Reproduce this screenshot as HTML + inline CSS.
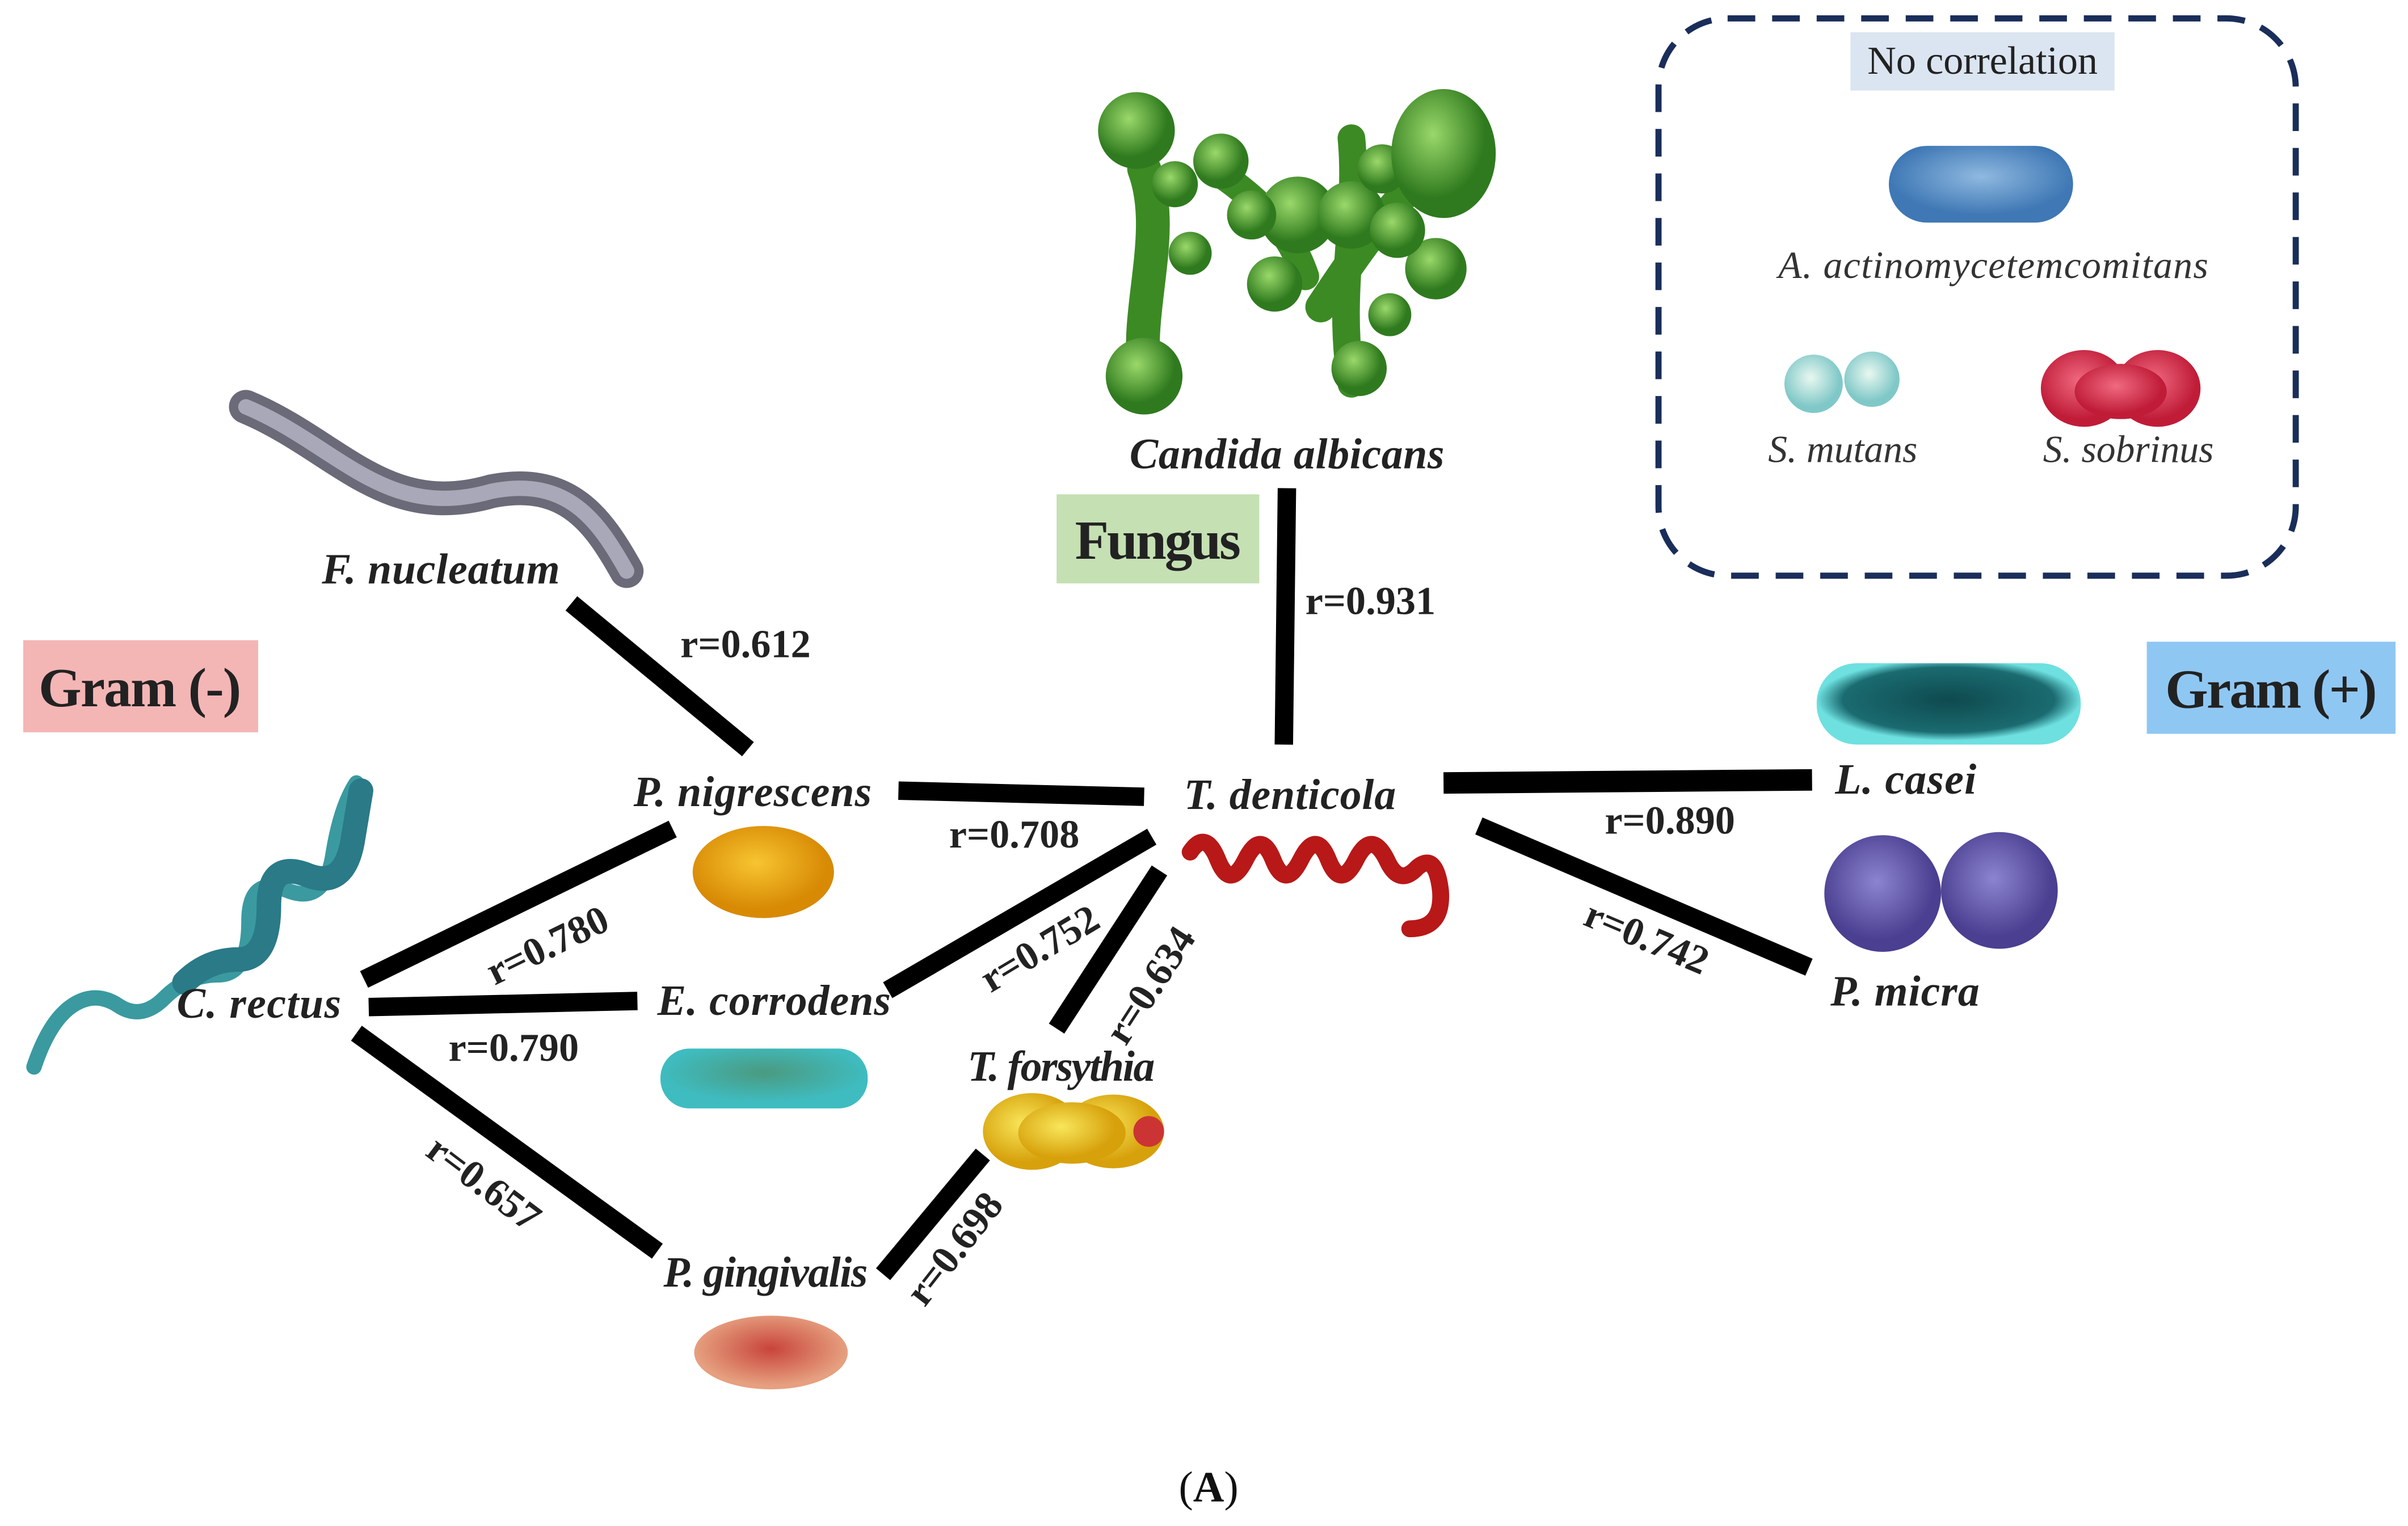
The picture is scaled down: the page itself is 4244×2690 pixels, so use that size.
<!DOCTYPE html>
<html><head><meta charset="utf-8"><style>
html,body{margin:0;padding:0;background:#fff;}
svg{display:block;}
text{font-family:"Liberation Serif",serif;}
.lb{font-weight:bold;font-style:italic;font-size:28px;fill:#222;}
.r{font-weight:bold;font-size:26px;fill:#222;}
.it{font-style:italic;font-size:25px;fill:#333;}
</style></head><body>
<svg width="4244" height="2690" viewBox="0 0 1568 994" xmlns="http://www.w3.org/2000/svg">
<defs>
<radialGradient id="gG" cx="40%" cy="35%"><stop offset="0" stop-color="#9ad86a"/><stop offset="1" stop-color="#2f7a1e"/></radialGradient>
<radialGradient id="gO" cx="45%" cy="40%"><stop offset="0" stop-color="#f7c530"/><stop offset="1" stop-color="#d88a05"/></radialGradient>
<radialGradient id="gP" cx="45%" cy="40%"><stop offset="0" stop-color="#8c84d0"/><stop offset="1" stop-color="#4a3f90"/></radialGradient>
<radialGradient id="gT" cx="50%" cy="45%"><stop offset="0" stop-color="#0e4a4e"/><stop offset="0.8" stop-color="#1a6b70"/><stop offset="1" stop-color="#6ee0e0"/></radialGradient>
<radialGradient id="gY" cx="40%" cy="40%"><stop offset="0" stop-color="#f8e65a"/><stop offset="1" stop-color="#d7a10c"/></radialGradient>
<radialGradient id="gR" cx="50%" cy="45%"><stop offset="0" stop-color="#c8443a"/><stop offset="1" stop-color="#e6a080"/></radialGradient>
<radialGradient id="gB" cx="50%" cy="40%"><stop offset="0" stop-color="#8fb9e0"/><stop offset="1" stop-color="#3f78b5"/></radialGradient>
<radialGradient id="gS" cx="45%" cy="40%"><stop offset="0" stop-color="#e8f8f0"/><stop offset="1" stop-color="#80c8c8"/></radialGradient>
<radialGradient id="gSo" cx="45%" cy="40%"><stop offset="0" stop-color="#f06a80"/><stop offset="1" stop-color="#c01c38"/></radialGradient>
<radialGradient id="gE" cx="50%" cy="40%"><stop offset="0" stop-color="#4a9a80"/><stop offset="1" stop-color="#3fbcc0"/></radialGradient>
</defs>

<rect x="1080" y="12" width="415" height="363" rx="45" fill="none" stroke="#1a2e5a" stroke-width="4" stroke-dasharray="18,11"/>
<rect x="1205" y="21" width="172" height="38" fill="#dbe5f1"/>
<text x="1291" y="48" text-anchor="middle" font-size="26" fill="#222" textLength="150">No correlation</text>
<rect x="1230" y="95" width="120" height="50" rx="25" fill="url(#gB)"/>
<text x="1298" y="181" text-anchor="middle" class="it" textLength="280">A. actinomycetemcomitans</text>
<circle cx="1181" cy="250" r="19" fill="url(#gS)"/><circle cx="1219" cy="247" r="18" fill="url(#gS)"/>
<text x="1200" y="301" text-anchor="middle" class="it">S. mutans</text>
<ellipse cx="1357" cy="253" rx="28" ry="25" fill="url(#gSo)"/><ellipse cx="1405" cy="253" rx="28" ry="25" fill="url(#gSo)"/><ellipse cx="1381" cy="255" rx="30" ry="18" fill="url(#gSo)"/>
<text x="1386" y="301" text-anchor="middle" class="it">S. sobrinus</text>

<g fill="url(#gG)">
<path d="M745 110 C760 150 740 200 745 240" stroke="#3c8a24" stroke-width="22" fill="none" stroke-linecap="round"/>
<path d="M790 110 C820 130 840 150 850 180" stroke="#3c8a24" stroke-width="18" fill="none" stroke-linecap="round"/>
<path d="M880 90 C885 140 870 190 880 250" stroke="#3c8a24" stroke-width="18" fill="none" stroke-linecap="round"/>
<path d="M930 110 C900 140 880 170 860 200" stroke="#3c8a24" stroke-width="20" fill="none" stroke-linecap="round"/>
<circle cx="740" cy="85" r="25"/><circle cx="745" cy="245" r="25"/><circle cx="795" cy="105" r="18"/>
<circle cx="845" cy="140" r="25"/><circle cx="880" cy="140" r="22"/><circle cx="900" cy="110" r="16"/>
<ellipse cx="940" cy="100" rx="34" ry="42"/><circle cx="935" cy="175" r="20"/><circle cx="830" cy="185" r="18"/>
<circle cx="775" cy="165" r="14"/><circle cx="885" cy="240" r="18"/><circle cx="905" cy="205" r="14"/>
<circle cx="815" cy="140" r="16"/><circle cx="765" cy="120" r="15"/><circle cx="910" cy="150" r="18"/>
</g>
<text x="838" y="305" text-anchor="middle" class="lb" font-size="30" textLength="205">Candida albicans</text>
<rect x="688" y="322" width="132" height="58" fill="#c5e0b3"/>
<text x="754" y="364" text-anchor="middle" font-weight="bold" font-size="36" fill="#222" textLength="108">Fungus</text>

<rect x="15" y="417" width="153" height="60" fill="#f4b5b5"/>
<text x="91" y="460" text-anchor="middle" font-weight="bold" font-size="36" fill="#222" textLength="132">Gram (-)</text>
<rect x="1398" y="418" width="162" height="60" fill="#8fc7f3"/>
<text x="1479" y="461" text-anchor="middle" font-weight="bold" font-size="36" fill="#222" textLength="138">Gram (+)</text>

<g stroke="#000" stroke-width="12" stroke-linecap="butt">
<line x1="838" y1="318" x2="836" y2="485"/>
<line x1="372" y1="393" x2="487" y2="488"/>
<line x1="585" y1="515" x2="745" y2="519"/>
<line x1="940" y1="510" x2="1180" y2="508" stroke-width="14"/>
<line x1="963" y1="538" x2="1178" y2="630"/>
<line x1="237" y1="638" x2="438" y2="540"/>
<line x1="240" y1="656" x2="415" y2="652"/>
<line x1="578" y1="645" x2="750" y2="545"/>
<line x1="688" y1="670" x2="755" y2="567"/>
<line x1="232" y1="673" x2="428" y2="815"/>
<line x1="575" y1="830" x2="640" y2="752"/>
</g>

<text x="850" y="400" class="r">r=0.931</text>
<text x="443" y="428" class="r">r=0.612</text>
<text x="618" y="552" class="r">r=0.708</text>
<text x="1045" y="543" class="r">r=0.890</text>
<text x="1030" y="602" class="r" transform="rotate(23 1030 602)">r=0.742</text>
<text x="322" y="642" class="r" transform="rotate(-26 322 642)">r=0.780</text>
<text x="292" y="691" class="r">r=0.790</text>
<text x="645" y="647" class="r" transform="rotate(-31 645 647)">r=0.752</text>
<text x="733" y="682" class="r" transform="rotate(-57 733 682)">r=0.634</text>
<text x="276" y="752" class="r" transform="rotate(37 276 752)">r=0.657</text>
<text x="602" y="852" class="r" transform="rotate(-52 602 852)">r=0.698</text>

<path d="M160 265 C220 290 250 340 320 320 C370 310 390 340 408 372" stroke="#6a6a78" stroke-width="22" fill="none" stroke-linecap="round"/>
<path d="M160 265 C220 290 250 340 320 320 C370 310 390 340 408 372" stroke="#a8a8b8" stroke-width="10" fill="none" stroke-linecap="round"/>
<text x="287" y="380" text-anchor="middle" class="lb" textLength="155">F. nucleatum</text>

<text x="490" y="525" text-anchor="middle" class="lb" textLength="155">P. nigrescens</text>
<ellipse cx="497" cy="568" rx="46" ry="30" fill="url(#gO)"/>

<text x="840" y="527" text-anchor="middle" class="lb" textLength="138">T. denticola</text>
<path d="M775 555 q10 -15 18 5 q8 20 18 0 q10 -20 18 0 q8 20 18 0 q10 -20 18 0 q8 20 18 0 q10 -20 20 0 q8 18 20 5 q12 -10 15 15 q2 25 -20 25" stroke="#b81818" stroke-width="11" fill="none" stroke-linecap="round"/>

<text x="1195" y="517" class="lb" textLength="92">L. casei</text>
<rect x="1183" y="432" width="172" height="53" rx="26" fill="url(#gT)"/>
<circle cx="1226" cy="582" r="38" fill="url(#gP)"/><circle cx="1302" cy="580" r="38" fill="url(#gP)"/>
<text x="1192" y="655" class="lb" textLength="97">P. micra</text>

<path d="M22 695 q10 -30 25 -40 q15 -10 30 0 q15 10 30 -5 q15 -15 35 -15 q20 0 20 -35 q0 -30 25 -20 q25 10 30 -25 q5 -30 15 -45" stroke="#3a9aa0" stroke-width="10" fill="none" stroke-linecap="round"/>
<path d="M120 640 q15 -15 35 -15 q20 0 20 -35 q0 -30 25 -20 q25 10 30 -25 q5 -30 5 -30" stroke="#2a7a88" stroke-width="16" fill="none" stroke-linecap="round"/>
<text x="115" y="663" class="lb" textLength="107">C. rectus</text>

<text x="428" y="661" class="lb" textLength="152">E. corrodens</text>
<rect x="430" y="683" width="135" height="39" rx="19" fill="url(#gE)"/>

<text x="630" y="704" class="lb" textLength="122">T. forsythia</text>
<ellipse cx="672" cy="737" rx="32" ry="25" fill="url(#gY)"/><ellipse cx="725" cy="737" rx="33" ry="24" fill="url(#gY)"/><ellipse cx="698" cy="738" rx="35" ry="20" fill="url(#gY)"/>
<circle cx="748" cy="737" r="10" fill="#c33"/>

<text x="432" y="838" class="lb" textLength="133">P. gingivalis</text>
<ellipse cx="502" cy="881" rx="50" ry="24" fill="url(#gR)"/>

<text x="787" y="978" text-anchor="middle" font-size="28" fill="#111">(<tspan font-weight="bold">A</tspan>)</text>
</svg>
</body></html>
